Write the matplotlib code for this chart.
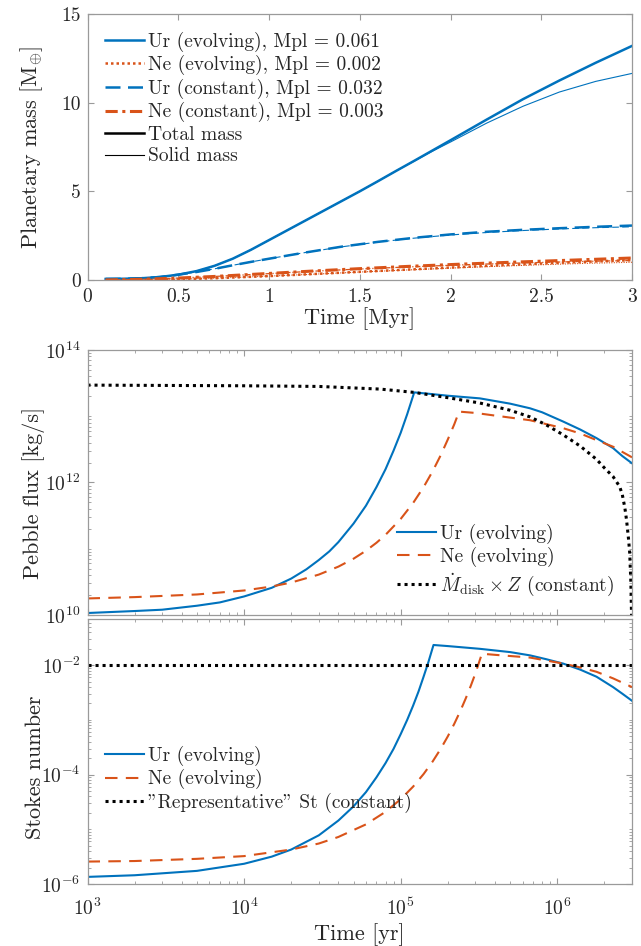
import numpy as np
import matplotlib
matplotlib.use("Agg")
import matplotlib.pyplot as plt
from matplotlib.lines import Line2D
from matplotlib.ticker import LogLocator, NullFormatter, FixedLocator

plt.rcParams['font.family'] = ['serif']
plt.rcParams['font.serif'] = ['cmr10', 'DejaVu Serif']
plt.rcParams['mathtext.fontset'] = 'cm'
plt.rcParams['axes.unicode_minus'] = False
plt.rcParams['axes.formatter.use_mathtext'] = True

BLUE = '#0072BD'
ORANGE = '#D95319'
SPINE = '#9a9a9a'
TXT = '#262626'

# ---------------- Panel 1: planetary mass [M_earth] vs time [Myr] ----------------
t_ur_evo = [0.1, 0.2, 0.3, 0.4, 0.5, 0.6, 0.7, 0.8, 0.9, 1.0, 1.1, 1.2, 1.3, 1.4, 1.5,
            1.6, 1.7, 1.8, 1.9, 2.0, 2.2, 2.4, 2.6, 2.8, 3.0]
ur_evo_total = [0.06, 0.07, 0.1, 0.17, 0.3, 0.5, 0.8, 1.2, 1.7, 2.25, 2.8, 3.35, 3.9, 4.45, 5.0,
                5.57, 6.15, 6.72, 7.3, 7.88, 9.05, 10.2, 11.25, 12.25, 13.2]
ur_evo_solid = [0.06, 0.07, 0.1, 0.17, 0.3, 0.5, 0.8, 1.2, 1.7, 2.25, 2.8, 3.35, 3.9, 4.45, 5.0,
                5.57, 6.15, 6.7, 7.26, 7.78, 8.85, 9.8, 10.6, 11.2, 11.65]
t_ur_con = [0.1, 0.2, 0.3, 0.4, 0.5, 0.6, 0.7, 0.8, 0.9, 1.0, 1.2, 1.4, 1.6, 1.8, 2.0,
            2.2, 2.4, 2.6, 2.8, 3.0]
ur_con_total = [0.06, 0.07, 0.1, 0.17, 0.3, 0.45, 0.63, 0.83, 1.02, 1.2, 1.55, 1.88, 2.15, 2.38, 2.57,
                2.72, 2.83, 2.92, 3.0, 3.07]
ur_con_solid = [0.06, 0.07, 0.1, 0.17, 0.3, 0.45, 0.63, 0.83, 1.02, 1.2, 1.55, 1.87, 2.14, 2.36, 2.54,
                2.68, 2.79, 2.88, 2.95, 3.0]
t_ne = [0.1, 0.3, 0.5, 0.7, 1.0, 1.25, 1.5, 1.75, 2.0, 2.25, 2.5, 2.75, 3.0]
ne_evo_total = [0.002, 0.01, 0.04, 0.1, 0.22, 0.34, 0.46, 0.58, 0.7, 0.82, 0.93, 1.03, 1.12]
ne_evo_solid = [0.002, 0.01, 0.04, 0.1, 0.22, 0.33, 0.45, 0.56, 0.67, 0.77, 0.86, 0.94, 1.0]
ne_con_total = [0.003, 0.04, 0.11, 0.2, 0.37, 0.51, 0.64, 0.76, 0.87, 0.97, 1.06, 1.15, 1.24]
ne_con_solid = [0.003, 0.04, 0.11, 0.2, 0.36, 0.5, 0.62, 0.73, 0.83, 0.92, 0.99, 1.05, 1.1]

legend_mass = ['Ur (evolving), Mpl = 0.061', 'Ne (evolving), Mpl = 0.002',
               'Ur (constant), Mpl = 0.032', 'Ne (constant), Mpl = 0.003',
               'Total mass', 'Solid mass']

# ---------------- Panel 2: pebble flux [kg/s] vs time [yr] ----------------
ur_flux_t = [1e3, 2e3, 3e3, 5e3, 7e3, 1e4, 1.5e4, 2e4, 2.5e4, 3e4, 3.5e4, 4e4, 5e4, 6e4, 7e4,
             8e4, 9e4, 1e5, 1.1e5, 1.22e5, 1.5e5, 2e5, 3.2e5, 5e5, 6.7e5, 8e5, 1.09e6, 1.4e6,
             1.78e6, 2.27e6, 2.6e6, 3e6]
ur_flux_logF = [10.03, 10.06, 10.08, 10.14, 10.19, 10.28, 10.41, 10.55, 10.69, 10.83, 10.96, 11.10,
                11.38, 11.65, 11.93, 12.20, 12.48, 12.75, 13.03, 13.36, 13.34, 13.31, 13.27, 13.19,
                13.12, 13.06, 12.92, 12.80, 12.67, 12.52, 12.40, 12.29]
ne_flux_t = [1e3, 2e3, 5e3, 1e4, 1.5e4, 2e4, 3e4, 4e4, 5e4, 6e4, 7e4, 8e4, 1e5, 1.2e5, 1.4e5,
             1.6e5, 1.8e5, 2e5, 2.2e5, 2.36e5, 3e5, 4e5, 6.7e5, 1.09e6, 1.4e6, 1.78e6, 2.27e6, 3e6]
ne_flux_logF = [10.25, 10.27, 10.31, 10.37, 10.43, 10.49, 10.61, 10.73, 10.85, 10.97, 11.09, 11.21,
                11.45, 11.69, 11.93, 12.17, 12.41, 12.65, 12.88, 13.07, 13.05, 13.01, 12.94, 12.82,
                12.74, 12.64, 12.54, 12.38]
disk_flux_t = [1e3, 1e4, 3e4, 7.4e4, 1.22e5, 2e5, 3.2e5, 5e5, 6.7e5, 8.5e5, 1.09e6, 1.4e6,
               1.78e6, 2.0e6, 2.27e6, 2.5e6, 2.6e6, 2.7e6, 2.77e6, 2.85e6, 2.9e6, 2.95e6,
               2.98e6, 3e6]
disk_flux_logF = [13.47, 13.46, 13.45, 13.41, 13.36, 13.28, 13.20, 13.09, 12.99, 12.87, 12.72, 12.55,
                  12.35, 12.22, 12.09, 11.94, 11.82, 11.62, 11.43, 11.15, 10.94, 10.5,
                  10.0, 9.0]
legend_flux = ['Ur (evolving)', 'Ne (evolving)', r'$\dot{M}_{\rm disk}\times Z$ (constant)']

# ---------------- Panel 3: Stokes number vs time [yr] ----------------
ur_st_t = [1e3, 2e3, 5e3, 1e4, 1.5e4, 2e4, 3e4, 4e4, 5e4, 6e4, 7e4, 8e4, 9e4, 1e5, 1.1e5,
           1.2e5, 1.3e5, 1.4e5, 1.5e5, 1.62e5, 2e5, 3.2e5, 5e5, 6.7e5, 8.5e5, 1.09e6, 1.4e6,
           1.78e6, 2.27e6, 2.6e6, 3e6]
ur_st_logS = [-5.87, -5.84, -5.76, -5.63, -5.50, -5.37, -5.11, -4.84, -4.58, -4.32, -4.05, -3.79,
              -3.53, -3.26, -3.0, -2.74, -2.48, -2.21, -1.95, -1.63, -1.65, -1.70, -1.76, -1.82,
              -1.89, -1.97, -2.08, -2.21, -2.40, -2.52, -2.65]
ne_st_t = [1e3, 2e3, 5e3, 1e4, 2e4, 3e4, 4e4, 6e4, 8e4, 1e5, 1.2e5, 1.4e5, 1.6e5, 1.8e5, 2e5,
           2.2e5, 2.4e5, 2.6e5, 2.8e5, 3e5, 3.3e5, 4e5, 6.7e5, 1.09e6, 1.4e6, 1.78e6, 2.27e6, 3e6]
ne_st_logS = [-5.59, -5.58, -5.54, -5.49, -5.37, -5.26, -5.14, -4.91, -4.68, -4.45, -4.22, -3.99,
              -3.76, -3.53, -3.30, -3.07, -2.84, -2.61, -2.38, -2.15, -1.79, -1.81, -1.86, -1.97,
              -2.04, -2.12, -2.24, -2.40]
st_const = 1.0e-2
legend_st = ['Ur (evolving)', 'Ne (evolving)', '"Representative" St (constant)']

XLIM_YR = (1e3, 3e6)

fig = plt.figure(figsize=(6.41, 9.46), dpi=100)
L, W = 87.5 / 641, (632 - 87.5) / 641


def box(y_top, y_bot):
    return [L, 1 - y_bot / 946, W, (y_bot - y_top) / 946]


def style(ax, xpad):
    for s in ax.spines.values():
        s.set_color(SPINE)
        s.set_linewidth(0.9)
    ax.tick_params(which='both', direction='in', top=True, right=True,
                   colors=SPINE, labelcolor=TXT, labelsize=14)
    ax.tick_params(which='major', length=4)
    ax.tick_params(which='minor', length=2)
    ax.tick_params(axis='x', which='major', pad=xpad)
    ax.tick_params(axis='y', which='major', pad=5)


def log_axes(ax, yticks):
    ax.set_xscale('log')
    ax.set_yscale('log')
    ax.yaxis.set_major_locator(FixedLocator(yticks))
    ax.yaxis.set_minor_locator(LogLocator(base=10, subs=np.arange(1, 10), numticks=50))
    ax.yaxis.set_minor_formatter(NullFormatter())
    ax.xaxis.set_major_locator(FixedLocator([1e3, 1e4, 1e5, 1e6]))
    ax.xaxis.set_minor_locator(LogLocator(base=10, subs=np.arange(2, 10), numticks=50))
    ax.xaxis.set_minor_formatter(NullFormatter())


LEG = dict(frameon=False, fontsize=14, handlelength=2.0, handletextpad=0.2,
           labelspacing=0.18, labelcolor=TXT)
DOT = (0, (1, 1.3))
DASH = (0, (6, 4))

# Panel 1
ax1 = fig.add_axes(box(14, 280))
ax1.plot(t_ur_evo, ur_evo_total, color=BLUE, lw=1.8)
ax1.plot(t_ur_evo, ur_evo_solid, color=BLUE, lw=0.8)
ax1.plot(t_ne, ne_evo_total, color=ORANGE, lw=1.8, ls=(0, (1, 1.2)))
ax1.plot(t_ne, ne_evo_solid, color=ORANGE, lw=0.8, ls=(0, (1, 1.2)))
ax1.plot(t_ur_con, ur_con_total, color=BLUE, lw=1.8, ls=(0, (6, 3)))
ax1.plot(t_ur_con, ur_con_solid, color=BLUE, lw=0.8, ls=(0, (6, 3)))
ax1.plot(t_ne, ne_con_total, color=ORANGE, lw=2.2, ls=(0, (4, 1.5, 1, 1.5)))
ax1.plot(t_ne, ne_con_solid, color=ORANGE, lw=0.9, ls=(0, (4, 1.5, 1, 1.5)))
ax1.set_xlim(0, 3)
ax1.set_ylim(0, 15)
ax1.set_xticks([0, 0.5, 1, 1.5, 2, 2.5, 3])
ax1.set_xticklabels(['0', '0.5', '1', '1.5', '2', '2.5', '3'])
ax1.set_yticks([0, 5, 10, 15])
ax1.set_yticklabels(['0', '5', '10', '15'])
ax1.set_xlabel('Time [Myr]', fontsize=16, color=TXT, labelpad=1)
ax1.set_ylabel(r'Planetary mass [M$_{\oplus}$]', fontsize=16, color=TXT)
ax1.yaxis.set_label_coords(-0.078, 0.5)
style(ax1, 6)
h1 = [Line2D([], [], color=BLUE, lw=1.8),
      Line2D([], [], color=ORANGE, lw=1.8, ls=(0, (1, 1.2))),
      Line2D([], [], color=BLUE, lw=1.8, ls=(0, (6, 3))),
      Line2D([], [], color=ORANGE, lw=2.2, ls=(0, (4, 1.5, 1, 1.5))),
      Line2D([], [], color='black', lw=1.8),
      Line2D([], [], color='black', lw=0.8)]
ax1.legend(h1, legend_mass, loc='upper left', bbox_to_anchor=(0.0, 1.0), **LEG)

# Panel 2
ax2 = fig.add_axes(box(350, 615))
ax2.plot(ur_flux_t, 10 ** np.array(ur_flux_logF), color=BLUE, lw=1.5)
ax2.plot(ne_flux_t, 10 ** np.array(ne_flux_logF), color=ORANGE, lw=1.5, ls=DASH)
ax2.plot(disk_flux_t, 10 ** np.array(disk_flux_logF), color='black', lw=2.2, ls=DOT)
log_axes(ax2, [1e10, 1e12, 1e14])
ax2.set_xlim(*XLIM_YR)
ax2.set_ylim(1e10, 1e14)
ax2.set_xticklabels([])
ax2.set_ylabel('Pebble flux [kg/s]', fontsize=16, color=TXT)
ax2.yaxis.set_label_coords(-0.078, 0.46)
style(ax2, 10)
ax2.legend(legend_flux, loc='lower right', bbox_to_anchor=(1.0, 0.0), **LEG)

# Panel 3
ax3 = fig.add_axes(box(619, 884))
ax3.plot(ur_st_t, 10 ** np.array(ur_st_logS), color=BLUE, lw=1.5)
ax3.plot(ne_st_t, 10 ** np.array(ne_st_logS), color=ORANGE, lw=1.5, ls=DASH)
ax3.plot(XLIM_YR, [st_const, st_const], color='black', lw=2.2, ls=DOT)
log_axes(ax3, [1e-6, 1e-4, 1e-2])
ax3.set_xlim(*XLIM_YR)
ax3.set_ylim(1e-6, 7e-2)
ax3.set_xlabel('Time [yr]', fontsize=16, color=TXT, labelpad=3)
ax3.set_ylabel('Stokes number', fontsize=16, color=TXT)
ax3.yaxis.set_label_coords(-0.078, 0.44)
style(ax3, 10)
ax3.legend(legend_st, loc='upper left', bbox_to_anchor=(0.0, 0.588), **LEG)

fig.savefig('out.png', dpi=100)
